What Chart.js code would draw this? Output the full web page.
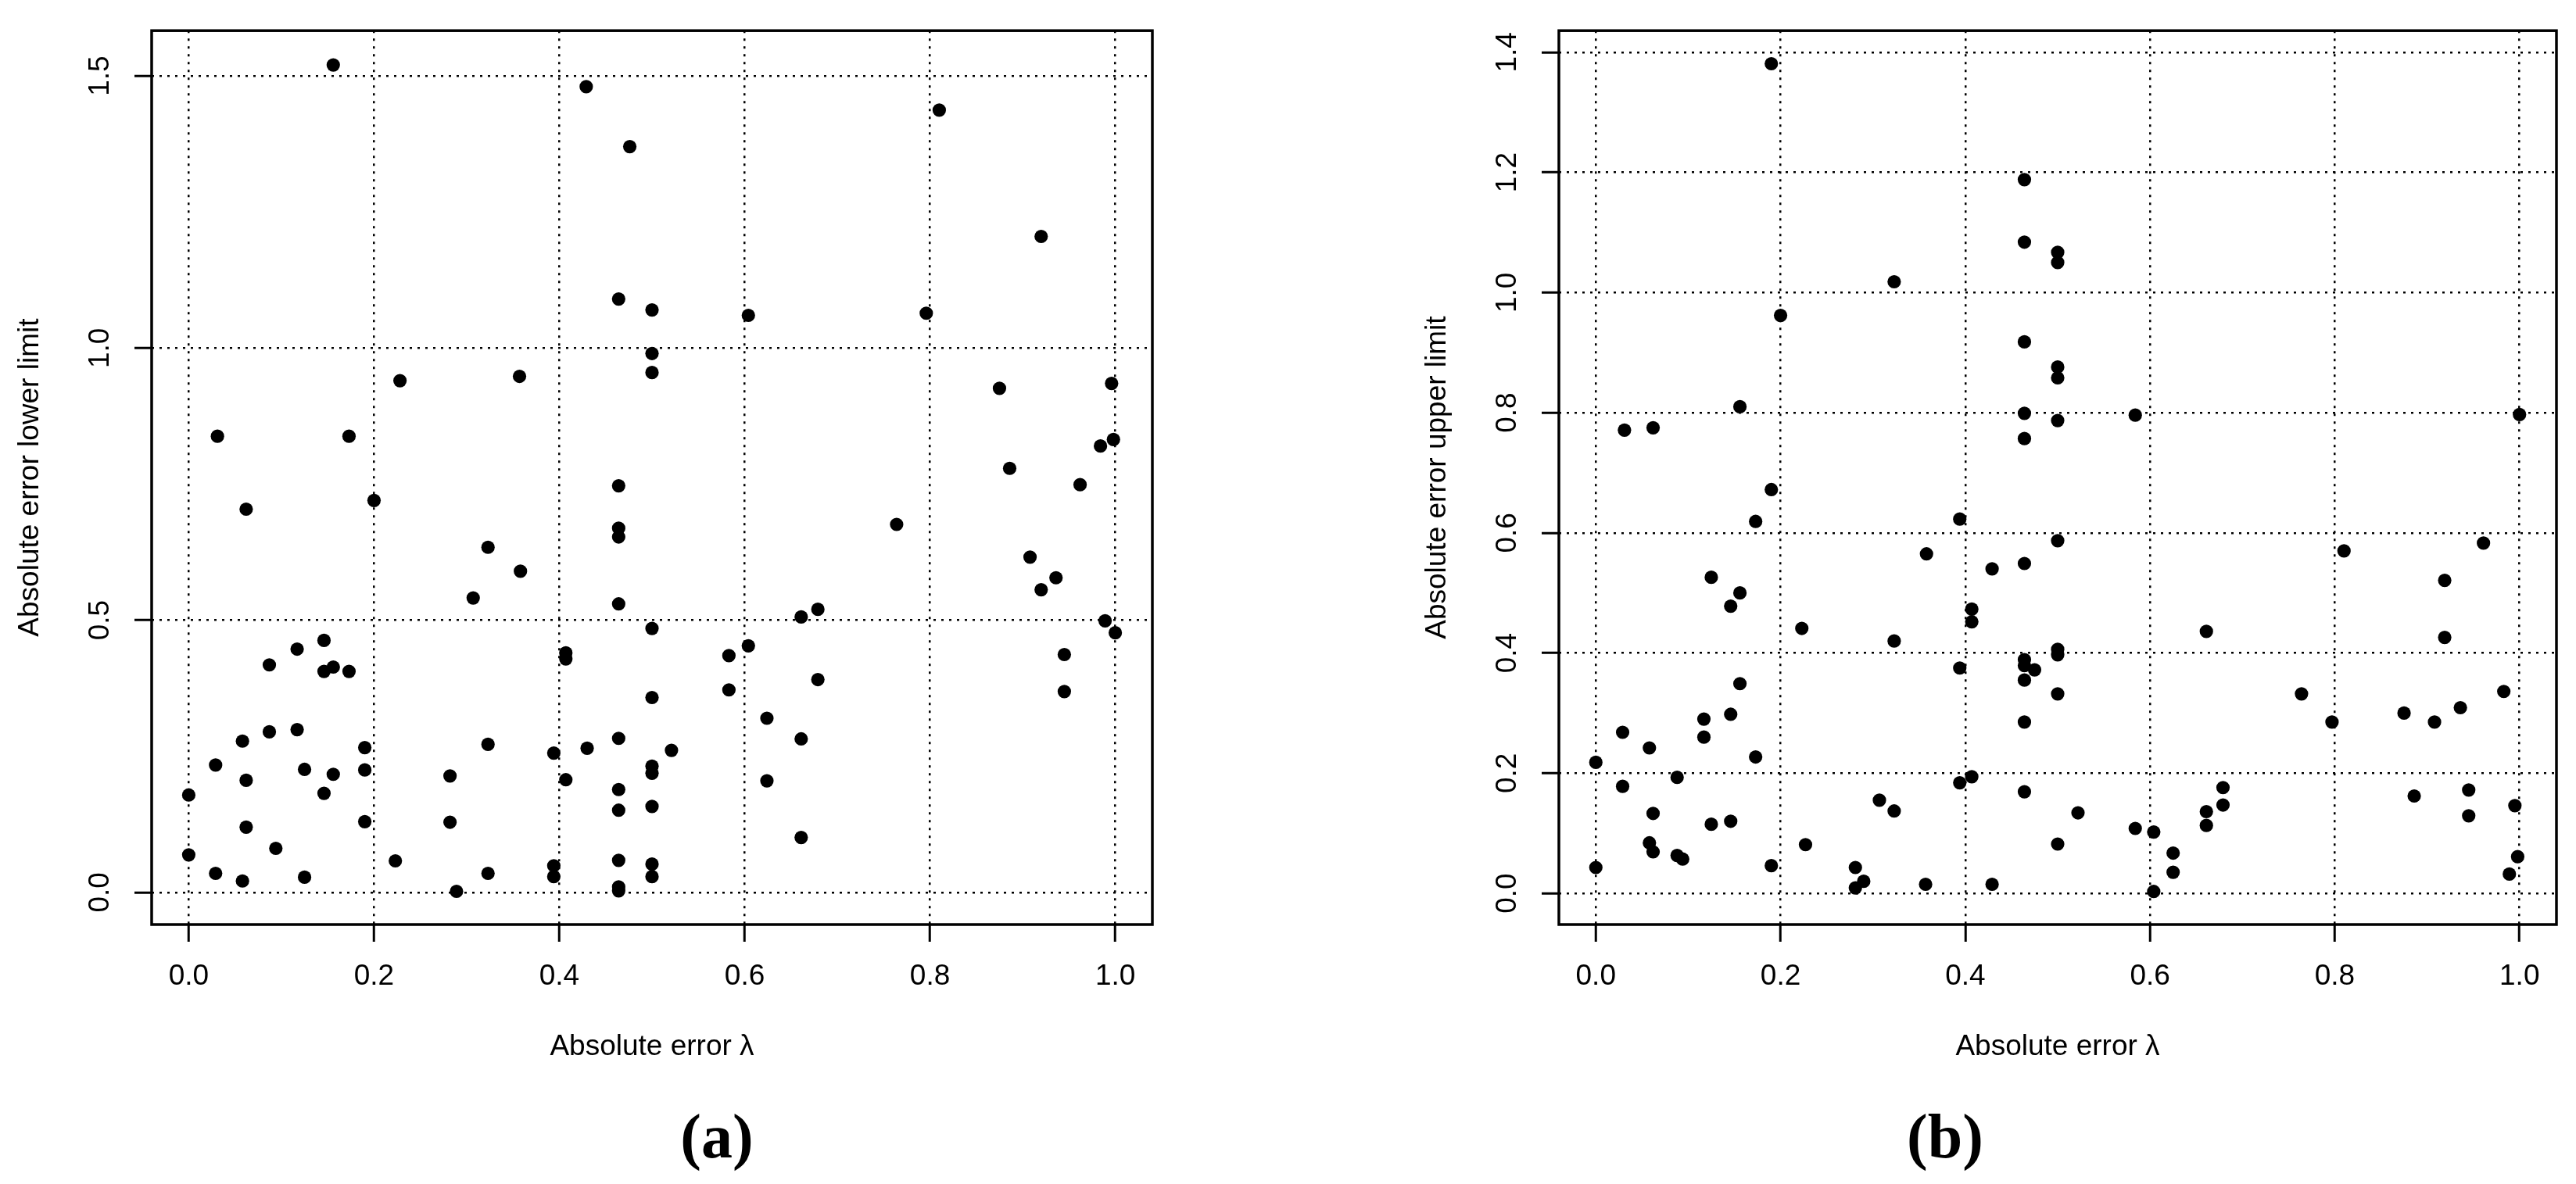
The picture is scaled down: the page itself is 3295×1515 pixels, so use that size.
<!DOCTYPE html>
<html>
<head>
<meta charset="utf-8">
<script src="https://cdn.jsdelivr.net/npm/chart.js@4/dist/chart.umd.min.js"></script>
<style>
    body { margin: 0; background: #fff; }
    #wrap { position: relative; width: 3295px; height: 1515px; background: #fff; overflow: hidden; }
    canvas { position: absolute; top: 0; }
    .cap { position: absolute; width: 300px; text-align: center; font: bold 80px "Liberation Serif", "Times New Roman", serif; line-height: 80px; color: #000; }
</style>
</head>
<body>
<div id="wrap">
    <canvas id="plotA" width="1560" height="1400" style="left:0px; width:1560px; height:1400px;"></canvas>
    <canvas id="plotB" width="1495" height="1400" style="left:1800px; width:1495px; height:1400px;"></canvas>
    <div class="cap" style="left:767px; top:1414px;">(a)</div>
    <div class="cap" style="left:2338px; top:1414px;">(b)</div>
</div>
<script>
// panel (a): absolute error lambda vs lower limit
var lowerX = [0.156,0.429,0.476,0.464,0.5,0.5,0.5,0.228,0.357,0.031,
    0.173,0.81,0.92,0.604,0.796,0.875,0.996,0.998,0.984,0.886,
    0.464,0.062,0.2,0.464,0.464,0.323,0.358,0.307,0.464,0.5,
    0.146,0.117,0.087,0.146,0.156,0.173,0.407,0.407,0.5,0.087,
    0.117,0.058,0.19,0.323,0.394,0.43,0.464,0.029,0.125,0.156,
    0.19,0.5,0.5,0.062,0.282,0.407,0.0,0.146,0.464,0.5,
    0.464,0.062,0.19,0.282,0.094,0.0,0.223,0.029,0.058,0.125,
    0.323,0.289,0.394,0.394,0.464,0.464,0.464,0.5,0.5,0.962,
    0.764,0.908,0.936,0.92,0.679,0.661,0.989,1.0,0.604,0.583,
    0.583,0.945,0.945,0.679,0.624,0.661,0.521,0.624,0.661];
var lowerY = [1.52,1.48,1.37,1.09,1.07,0.99,0.955,0.94,0.948,0.838,
    0.838,1.437,1.205,1.06,1.064,0.926,0.935,0.832,0.82,0.779,
    0.747,0.704,0.72,0.669,0.653,0.634,0.59,0.541,0.53,0.485,
    0.463,0.447,0.418,0.406,0.414,0.406,0.44,0.429,0.358,0.295,
    0.299,0.278,0.266,0.272,0.256,0.265,0.283,0.234,0.226,0.217,
    0.225,0.232,0.219,0.206,0.214,0.207,0.179,0.182,0.189,0.158,
    0.151,0.12,0.13,0.129,0.081,0.069,0.058,0.035,0.021,0.028,
    0.035,0.002,0.049,0.029,0.059,0.01,0.003,0.052,0.029,0.749,
    0.676,0.616,0.578,0.556,0.52,0.506,0.499,0.477,0.453,0.435,
    0.372,0.437,0.369,0.391,0.32,0.282,0.261,0.205,0.101];

// panel (b): absolute error lambda vs upper limit
var upperX = [0.19,0.464,0.464,0.5,0.5,0.323,0.2,0.464,0.5,0.5,
    0.156,0.464,0.5,0.031,0.062,0.464,0.584,1.0,0.19,0.173,
    0.394,0.5,0.358,0.464,0.429,0.125,0.156,0.146,0.407,0.407,
    0.223,0.323,0.5,0.5,0.464,0.464,0.475,0.394,0.464,0.5,
    0.156,0.146,0.117,0.464,0.029,0.117,0.058,0.173,0.0,0.088,
    0.029,0.394,0.407,0.464,0.307,0.323,0.062,0.125,0.146,0.058,
    0.062,0.088,0.094,0.227,0.19,0.0,0.5,0.281,0.29,0.281,
    0.357,0.429,0.81,0.961,0.919,0.661,0.919,0.764,0.797,0.875,
    0.908,0.936,0.983,0.679,0.679,0.661,0.661,0.522,0.584,0.604,
    0.625,0.625,0.604,0.886,0.945,0.945,0.995,0.998,0.989];
var upperY = [1.381,1.188,1.084,1.067,1.05,1.018,0.962,0.918,0.876,0.858,
    0.81,0.799,0.787,0.771,0.775,0.757,0.796,0.797,0.672,0.619,
    0.623,0.587,0.565,0.549,0.54,0.526,0.5,0.478,0.473,0.452,
    0.441,0.42,0.406,0.397,0.389,0.379,0.372,0.375,0.355,0.332,
    0.349,0.298,0.29,0.285,0.268,0.26,0.242,0.227,0.218,0.193,
    0.178,0.184,0.194,0.169,0.155,0.137,0.133,0.115,0.12,0.084,
    0.069,0.063,0.057,0.081,0.046,0.043,0.082,0.043,0.02,0.009,
    0.015,0.015,0.57,0.583,0.521,0.436,0.426,0.332,0.285,0.3,
    0.285,0.309,0.336,0.176,0.147,0.136,0.113,0.134,0.108,0.102,
    0.067,0.035,0.003,0.162,0.172,0.129,0.146,0.061,0.032];

var xTicks = [0, 0.2, 0.4, 0.6, 0.8, 1.0];
var lowerTicks = [0, 0.5, 1.0, 1.5];
var upperTicks = [0, 0.2, 0.4, 0.6, 0.8, 1.0, 1.2, 1.4];

var xTitle = 'Absolute error \u03bb';
var lowerTitle = 'Absolute error lower limit';
var upperTitle = 'Absolute error upper limit';

Chart.defaults.color = '#000';
Chart.defaults.font.family = '"Liberation Sans", Arial, Helvetica, sans-serif';
Chart.defaults.font.size = 37;

var toPoints = (xs, ys) => {
    return xs.map((x, i) => ({x: x, y: ys[i]}));
};

// draws the full frame round the plot region, like R's box()
var boxPlugin = {
    id: 'box',
    afterDraw(chart) {
        let a = chart.chartArea;
        let ctx = chart.ctx;
        ctx.save();
        ctx.strokeStyle = '#000';
        ctx.lineWidth = 3.5;
        ctx.strokeRect(a.left, a.top, a.right - a.left, a.bottom - a.top);
        ctx.restore();
    }
};

function makePlot(id, xs, ys, yTicks, yMin, yMax, yTitle, rightPad)
{
    let gridOpts = {
        color: '#000',
        lineWidth: 2.5,
        tickLength: 22,
        tickWidth: 3,
        tickColor: '#000'
    };
    return new Chart(id, {
        type: 'scatter',
        data: {
            datasets: [{
                data: toPoints(xs, ys),
                pointRadius: 8.6,
                pointHoverRadius: 8.6,
                backgroundColor: '#000',
                borderWidth: 0
            }]
        },
        options: {
            responsive: false,
            animation: false,
            events: [],
            layout: {padding: {top: 38, right: rightPad, left: 0, bottom: 0}},
            plugins: {legend: {display: false}, tooltip: {enabled: false}},
            scales: {
                x: {
                    type: 'linear',
                    min: -0.04,
                    max: 1.04,
                    grid: gridOpts,
                    border: {display: false, dash: [3, 7]},
                    ticks: {
                        padding: 23,
                        autoSkip: false,
                        maxRotation: 0,
                        callback: (v) => v.toFixed(1)
                    },
                    title: {display: true, text: xTitle, padding: {top: 0, bottom: 38}},
                    afterBuildTicks: (s) => { s.ticks = xTicks.map(v => ({value: v})); },
                    afterFit: (s) => { s.height = 217; }
                },
                y: {
                    type: 'linear',
                    min: yMin,
                    max: yMax,
                    grid: gridOpts,
                    border: {display: false, dash: [3, 7]},
                    ticks: {
                        padding: 17,
                        autoSkip: false,
                        minRotation: 90,
                        maxRotation: 90,
                        crossAlign: 'center',
                        callback: (v) => v.toFixed(1)
                    },
                    title: {display: true, text: yTitle, padding: {top: 17, bottom: 0}},
                    afterBuildTicks: (s) => { s.ticks = yTicks.map(v => ({value: v})); },
                    afterFit: (s) => { s.width = 194; }
                }
            }
        },
        plugins: [boxPlugin]
    });
}

makePlot('plotA', lowerX, lowerY, lowerTicks, -0.059, 1.583, lowerTitle, 86);
makePlot('plotB', upperX, upperY, upperTicks, -0.052, 1.436, upperTitle, 25);
</script>
</body>
</html>
